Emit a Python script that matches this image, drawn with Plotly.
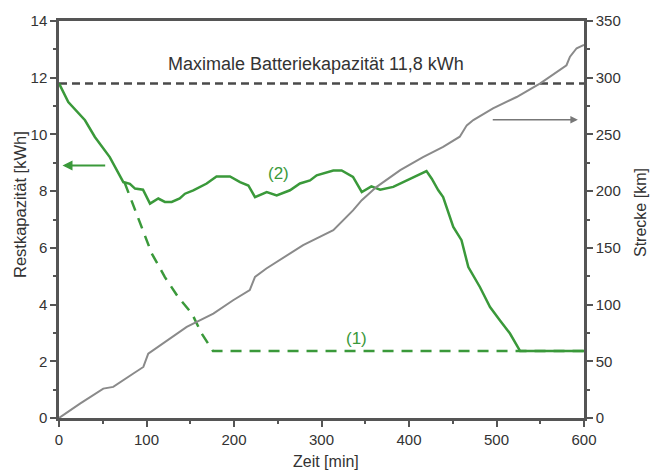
import plotly.graph_objects as go

# --- data ---
sol_t = [0, 10.6, 29.7, 41, 58, 67.8, 73.5, 81, 86.9, 96, 104, 113.5, 121, 128.8, 138, 144, 153.5, 168.8, 180,
         195.4, 206.9, 216.4, 224, 237.4, 248.8, 264, 275.4, 286.9, 294.5, 313.5, 323, 336, 346, 357, 367, 382,
         397, 408.8, 420, 426, 433.5, 439, 450.6, 460, 467.8, 481, 492.6, 504, 515.4, 527, 600]
sol_y = [11.8, 11.14, 10.5, 9.91, 9.2, 8.62, 8.32, 8.26, 8.09, 8.05, 7.56, 7.74, 7.62, 7.62, 7.74, 7.91, 8.03,
         8.27, 8.52, 8.52, 8.32, 8.2, 7.79, 7.97, 7.85, 8.03, 8.27, 8.38, 8.56, 8.73, 8.73, 8.5, 7.97, 8.17, 8.05,
         8.15, 8.38, 8.56, 8.71, 8.44, 8.03, 7.79, 6.74, 6.27, 5.32, 4.62, 3.91, 3.44, 2.98, 2.36, 2.36]

dash_t = [75, 87, 96, 106, 121, 136, 152, 163, 176, 600]
dash_y = [8.3, 7.32, 6.62, 5.8, 4.97, 4.27, 3.68, 2.98, 2.36, 2.36]

gray_t = [0, 24, 50.6, 62, 85, 96.4, 102, 115.4, 146, 176.4, 199, 218, 224, 237, 260, 279, 298, 313.5, 336, 346,
          363, 390, 416, 439, 458, 466, 473.5, 496, 523, 550, 580, 584, 591.6, 600]
gray_km = [0, 12.7, 25.9, 27.4, 39.2, 45, 56.8, 64.1, 80.3, 92.1, 103.8, 112.7, 124.4, 131.8, 143.5, 152.4, 159.7,
           165.6, 183, 192, 203.8, 218.5, 230, 239, 248, 258, 262.7, 273, 283, 295, 311, 318.5, 326, 329]

max_cap = 11.8
max_label = "Maximale Batteriekapazität 11,8 kWh"
x_title = "Zeit [min]"
y_title = "Restkapazität [kWh]"
y2_title = "Strecke [km]"

GREEN = "#3a993a"
GRAY = "#8a8a8a"
AX = "#555555"
TXT = "#333333"
FONT = "Arial, Liberation Sans, sans-serif"

fig = go.Figure()
fig.add_trace(go.Scatter(x=[0, 600], y=[max_cap, max_cap], mode="lines",
                         line=dict(color="#4a4a4a", width=2.5, dash="8px,5px"), showlegend=False))
fig.add_trace(go.Scatter(x=gray_t, y=gray_km, mode="lines", yaxis="y2",
                         line=dict(color=GRAY, width=2), showlegend=False))
fig.add_trace(go.Scatter(x=dash_t, y=dash_y, mode="lines",
                         line=dict(color=GREEN, width=2.5, dash="11px,8px"), showlegend=False))
fig.add_trace(go.Scatter(x=sol_t, y=sol_y, mode="lines",
                         line=dict(color=GREEN, width=2.5), showlegend=False))

tickfont = dict(family=FONT, size=15, color=TXT)
fig.update_layout(
    width=651, height=471,
    margin=dict(l=59, r=67, t=21, b=53, autoexpand=False),
    plot_bgcolor="white", paper_bgcolor="white",
    font=dict(family=FONT, color=TXT, size=15),
    xaxis=dict(range=[0, 600], dtick=100, tick0=0, showgrid=False, zeroline=False, automargin=False,
               showline=True, linecolor=AX, linewidth=2.5, mirror=True,
               ticks="outside", ticklen=6, tickwidth=2, tickcolor=AX, tickfont=tickfont,
               minor=dict(ticks="outside", ticklen=3, tickwidth=2, tickcolor=AX, dtick=50)),
    yaxis=dict(range=[0, 14], dtick=2, tick0=0, showgrid=False, zeroline=False, automargin=False,
               showline=True, linecolor=AX, linewidth=2.5, mirror=True,
               ticks="outside", ticklen=6, tickwidth=2, tickcolor=AX, tickfont=tickfont,
               minor=dict(ticks="outside", ticklen=3, tickwidth=2, tickcolor=AX, dtick=1)),
    yaxis2=dict(range=[0, 350], dtick=50, tick0=0, overlaying="y", side="right", showgrid=False,
                zeroline=False, showline=True, linecolor=AX, linewidth=2.5, automargin=False,
                ticks="outside", ticklen=6, tickwidth=2, tickcolor=AX, tickfont=tickfont,
                minor=dict(ticks="outside", ticklen=3, tickwidth=2, tickcolor=AX, dtick=25)),
)

# axis titles (placed in paper coordinates)
fig.add_annotation(x=(326 - 59) / 525, y=(418 - 462) / 397, xref="paper", yref="paper", text=x_title,
                   xanchor="center", yanchor="middle",
                   showarrow=False, font=dict(family=FONT, size=16, color=TXT))
fig.add_annotation(x=(20 - 59) / 525, y=(418 - 205) / 397, xref="paper", yref="paper", text=y_title,
                   xanchor="center", yanchor="middle",
                   showarrow=False, textangle=-90, font=dict(family=FONT, size=16.5, color=TXT))
fig.add_annotation(x=(640 - 59) / 525, y=(418 - 213) / 397, xref="paper", yref="paper", text=y2_title,
                   xanchor="center", yanchor="middle",
                   showarrow=False, textangle=-90, font=dict(family=FONT, size=16, color=TXT))

fig.add_annotation(x=294, y=12.47, xref="x", yref="y", text=max_label, showarrow=False,
                   font=dict(family=FONT, size=18, color=TXT))
fig.add_annotation(x=250.6, y=8.62, xref="x", yref="y", text="(2)", showarrow=False,
                   font=dict(family=FONT, size=17, color=GREEN))
fig.add_annotation(x=340, y=2.8, xref="x", yref="y", text="(1)", showarrow=False,
                   font=dict(family=FONT, size=17, color=GREEN))
# arrows
fig.add_annotation(x=4, y=8.9, ax=54.5, ay=8.9, xref="x", yref="y", axref="x", ayref="y",
                   text="", showarrow=True, arrowhead=2, arrowsize=1, arrowwidth=2, arrowcolor=GREEN)
fig.add_annotation(x=593, y=263, ax=494, ay=263, xref="x", yref="y2", axref="x", ayref="y2",
                   text="", showarrow=True, arrowhead=2, arrowsize=1, arrowwidth=1.5, arrowcolor="#777777")

fig.write_html("out.html")
